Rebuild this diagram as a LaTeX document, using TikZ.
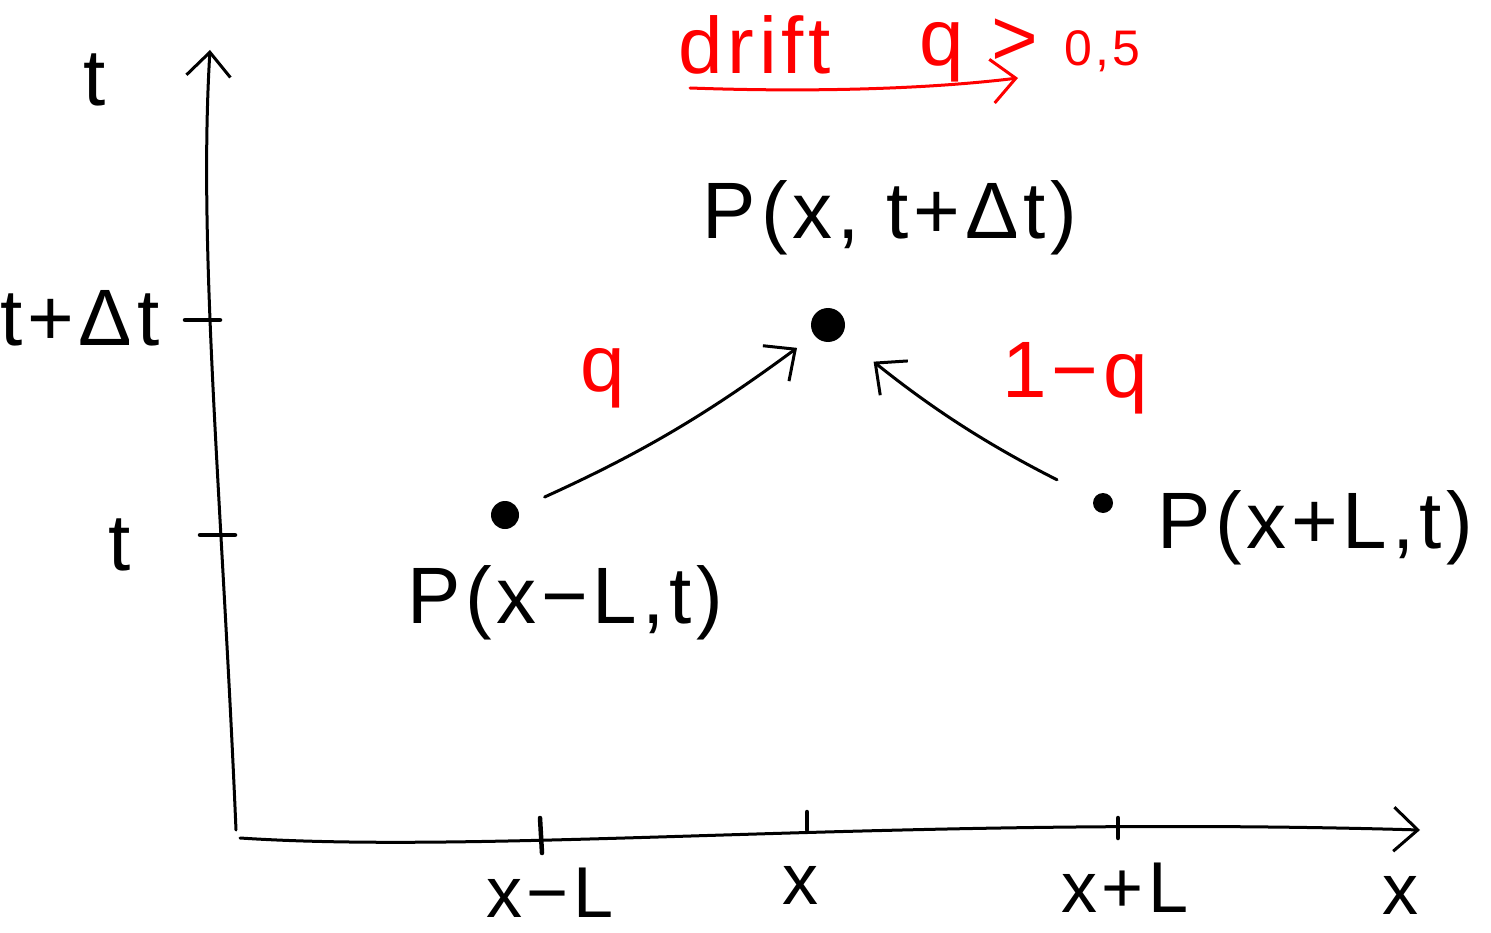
\documentclass[tikz,border=0pt]{standalone}
\usepackage{fontspec}
\setmainfont{Liberation Sans}
\usetikzlibrary{arrows.meta}
\begin{document}
\begin{tikzpicture}[x=1pt,y=-1pt, line width=3pt, line cap=round, line join=round,
 lbl/.style={font=\fontsize{80}{90}\selectfont\addfontfeature{LetterSpace=6}, inner sep=0pt},
 axlbl/.style={font=\fontsize{72}{80}\selectfont\addfontfeature{LetterSpace=6}, inner sep=0pt},
 rlbl/.style={lbl, text=red},
 dotstyle/.style={circle, fill=black, inner sep=0pt},
 barb/.style={-{Straight Barb[length=24pt,width=44pt,line width=3pt]}},
 tickmark/.style={line width=4.5pt}]
\useasboundingbox (0,0) rectangle (1491,933);
% axes
\coordinate (O) at (236,830);
\coordinate (Ox) at (240,838);
\coordinate (T) at (210,50);
\coordinate (X) at (1420,830);
\draw[barb] (O) .. controls (222,500) and (198,250) .. (T);
\draw[barb] (Ox) .. controls (500,855) and (900,815) .. (X);
% ticks
\draw[tickmark] (185,320) -- (220,320);
\draw[tickmark] (200,535) -- (235,535);
\draw[tickmark] (540,818) -- (542,853);
\draw[tickmark] (807,812) -- (807,830);
\draw[tickmark] (1118,818) -- (1118,838);
% axis labels
\node[lbl] (tlab) at (95,80) {t};
\node[lbl] (tdt) at (80,318) {t+Δt};
\node[lbl] (tt) at (120,545) {t};
\node[axlbl] (xml) at (550,893) {x−L};
\node[axlbl] (xx) at (800,885) {x};
\node[axlbl] (xpl) at (1125,888) {x+L};
\node[axlbl] (xaxis) at (1400,895) {x};
% dots
\node[dotstyle, minimum size=28pt] (dotL) at (505,515) {};
\node[dotstyle, minimum size=34pt] (dotC) at (828,325) {};
\node[dotstyle, minimum size=20pt] (dotR) at (1103,503) {};
% point labels
\node[lbl] (PL) at (565,603) {P(x−L,t)};
\node[lbl] (PC) at (890,218) {P(x, t+Δt)};
\node[lbl] (PR) at (1315,528) {P(x+L,t)};
% transition arrows
\draw[barb, shorten <=28pt, shorten >=20pt] (dotL) to[bend right=6] (dotC);
\draw[barb, shorten <=40pt, shorten >=40pt] (dotR) to[bend left=6] (dotC);
% red labels
\node[rlbl] (q1) at (603,378) {q};
\node[rlbl] (q2) at (1075,378) {1−q};
\node[rlbl] (drift) at (755,45) {drift};
\node[rlbl] (cond) at (1030,50) {q > {\fontsize{50}{60}\selectfont 0,5}};
\coordinate (ds) at (690,88);
\coordinate (de) at (1018,78);
\draw[barb, red] (ds) .. controls (800,92) and (920,90) .. (de);
\end{tikzpicture}
\end{document}
